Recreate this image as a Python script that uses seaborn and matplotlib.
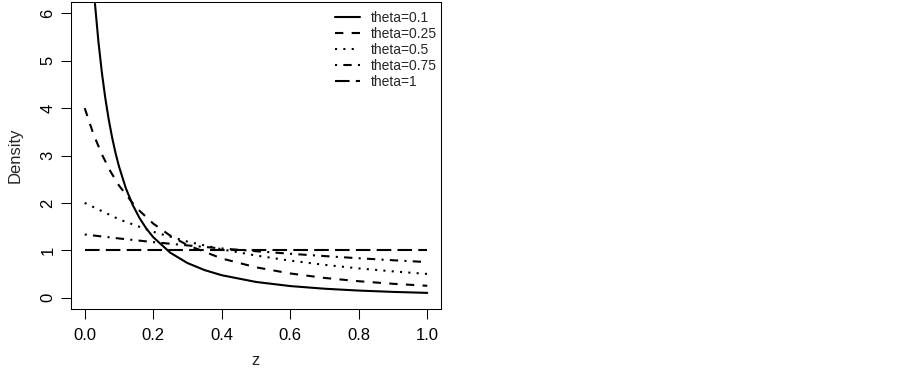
import matplotlib
matplotlib.use("Agg")
import matplotlib.pyplot as plt
import seaborn as sns
import pandas as pd

# ---- data ----
labels = ["theta=0.1", "theta=0.25", "theta=0.5", "theta=0.75", "theta=1"]

z_01 = [0.03, 0.04, 0.05, 0.06, 0.07, 0.08, 0.09, 0.10, 0.12, 0.14, 0.16, 0.18,
        0.20, 0.25, 0.30, 0.35, 0.40, 0.50, 0.60, 0.70, 0.80, 0.90, 1.00]
d_01 = [6.200, 5.407, 4.756, 4.217, 3.764, 3.380, 3.052, 2.770, 2.311, 1.958, 1.680, 1.457,
        1.276, 0.947, 0.730, 0.581, 0.473, 0.331, 0.244, 0.188, 0.149, 0.121, 0.100]

z_025 = [0.0, 0.025, 0.05, 0.075, 0.1, 0.15, 0.2, 0.25, 0.3, 0.4, 0.5, 0.6, 0.7, 0.8, 0.9, 1.0]
d_025 = [4.000, 3.461, 3.025, 2.666, 2.367, 1.902, 1.563, 1.306, 1.108, 0.826, 0.640,
         0.510, 0.416, 0.346, 0.292, 0.250]

z_05 = [0.0, 0.1, 0.2, 0.3, 0.4, 0.5, 0.6, 0.7, 0.8, 0.9, 1.0]
d_05 = [2.000, 1.653, 1.389, 1.183, 1.020, 0.889, 0.781, 0.692, 0.617, 0.554, 0.500]

z_075 = [0.0, 0.1, 0.2, 0.3, 0.4, 0.5, 0.6, 0.7, 0.8, 0.9, 1.0]
d_075 = [1.333, 1.249, 1.172, 1.102, 1.038, 0.980, 0.926, 0.877, 0.831, 0.789, 0.750]

z_1 = [0.0, 1.0]
d_1 = [1.0, 1.0]

x_ticks = [0.0, 0.2, 0.4, 0.6, 0.8, 1.0]
x_ticklabels = ["0.0", "0.2", "0.4", "0.6", "0.8", "1.0"]
y_ticks = [0, 1, 2, 3, 4, 5, 6]

series = [(z_01, d_01), (z_025, d_025), (z_05, d_05), (z_075, d_075), (z_1, d_1)]
dash_styles = [None, (4, 4), (1, 3), (1, 3, 4, 3), (7, 3)]

# ---- styling ----
sns.set_style("ticks")
plt.rcParams["font.family"] = ["Liberation Sans", "DejaVu Sans"]
plt.rcParams["axes.linewidth"] = 0.75
plt.rcParams["xtick.major.width"] = 0.75
plt.rcParams["ytick.major.width"] = 0.75
plt.rcParams["xtick.major.size"] = 7.2
plt.rcParams["ytick.major.size"] = 7.2
plt.rcParams["xtick.color"] = "black"
plt.rcParams["ytick.color"] = "black"
plt.rcParams["axes.edgecolor"] = "black"

fig = plt.figure(figsize=(9.03, 3.68), dpi=100)
ax = fig.add_axes([71 / 903, 1 - 309 / 368, 370 / 903, 307 / 368])

lw = 1.5
for (zz, dd), lab, ds in zip(series, labels, dash_styles):
    df = pd.DataFrame({"z": zz, "Density": dd})
    sns.lineplot(data=df, x="z", y="Density", color="black", linewidth=lw,
                 label=lab, sort=False, ax=ax)
    ln = ax.get_lines()[-1]
    if ds is not None:
        ln.set_dashes(ds)
        ln.set_dash_capstyle("butt")

ax.set_xlim(-0.04, 1.04)
ax.set_ylim(-0.24, 6.24)
ax.set_xticks(x_ticks)
ax.set_xticklabels(x_ticklabels)
ax.set_yticks(y_ticks)
ax.set_yticklabels([str(v) for v in y_ticks], rotation=90, va="center")
ax.tick_params(axis="x", labelsize=12, pad=6.5)
ax.tick_params(axis="y", labelsize=12, pad=4)
ax.set_xlabel("z", fontsize=12, labelpad=7.5)
ax.set_ylabel("Density", fontsize=12, labelpad=13)
for s in ax.spines.values():
    s.set_visible(True)
    s.set_color("black")

leg = ax.legend(loc="upper right", bbox_to_anchor=(0.989, 0.972), frameon=False,
                fontsize=10, handlelength=1.8, handletextpad=0.8,
                labelspacing=0.15, borderpad=0, borderaxespad=0)

fig.savefig("out.png", dpi=100)
